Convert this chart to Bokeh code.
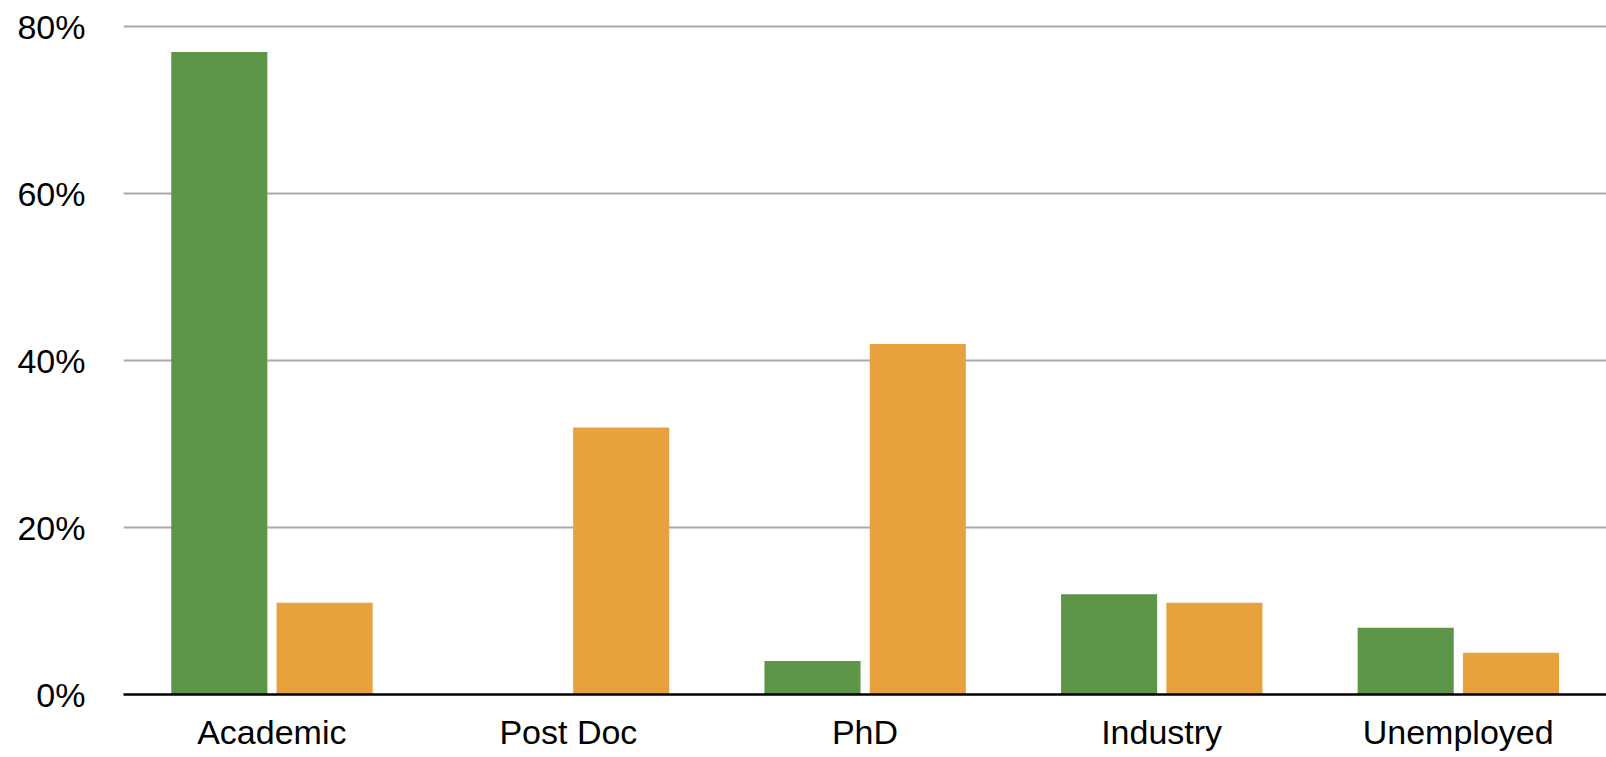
from bokeh.plotting import figure
from bokeh.models import FixedTicker, PrintfTickFormatter, ColumnDataSource, Range1d
from bokeh.transform import dodge
from bokeh.embed import file_html
from bokeh.resources import INLINE

# Share of respondents by current position (%)
categories = ["Academic", "Post Doc", "PhD", "Industry", "Unemployed"]
series_green = [77, 0, 4, 12, 8]
series_orange = [11, 32, 42, 11, 5]
y_ticks = [0, 20, 40, 60, 80]

GREEN = "#5d9649"
ORANGE = "#e8a23d"
FONT = "Liberation Sans"

source = ColumnDataSource(data=dict(cat=categories, green=series_green, orange=series_orange))

p = figure(
    x_range=categories,
    y_range=Range1d(0, 81),
    width=1606,
    height=757,
    output_backend="svg",
    toolbar_location=None,
    min_border_left=123,
    min_border_right=0,
    min_border_top=18,
    min_border_bottom=63,
)

p.vbar(x=dodge("cat", -0.177, range=p.x_range), top="green", width=0.324,
       source=source, fill_color=GREEN, line_color=None)
p.vbar(x=dodge("cat", 0.178, range=p.x_range), top="orange", width=0.324,
       source=source, fill_color=ORANGE, line_color=None)

p.outline_line_color = None
p.background_fill_color = "white"
p.border_fill_color = "white"

# horizontal gridlines only
p.xgrid.grid_line_color = None
p.ygrid.grid_line_color = "#a9a9a9"
p.ygrid.grid_line_width = 2

# y axis: percentage labels, no line or ticks
p.yaxis.ticker = FixedTicker(ticks=y_ticks)
p.yaxis.formatter = PrintfTickFormatter(format="%d%%")
p.yaxis.axis_line_color = None
p.yaxis.major_tick_line_color = None
p.yaxis.minor_tick_line_color = None
p.yaxis.major_tick_out = 0
p.yaxis.major_tick_in = 0
p.yaxis.major_label_standoff = 38
p.yaxis.major_label_text_font = FONT
p.yaxis.major_label_text_font_size = "34px"
p.yaxis.major_label_text_color = "black"

# x axis: black baseline with category names
p.xaxis.axis_line_color = "black"
p.xaxis.axis_line_width = 2.5
p.xaxis.major_tick_line_color = None
p.xaxis.minor_tick_line_color = None
p.xaxis.major_tick_out = 0
p.xaxis.major_tick_in = 0
p.xaxis.major_label_standoff = 18
p.xaxis.major_label_text_font = FONT
p.xaxis.major_label_text_font_size = "34px"
p.xaxis.major_label_text_color = "black"

open("out.html", "w").write(file_html(p, INLINE))
